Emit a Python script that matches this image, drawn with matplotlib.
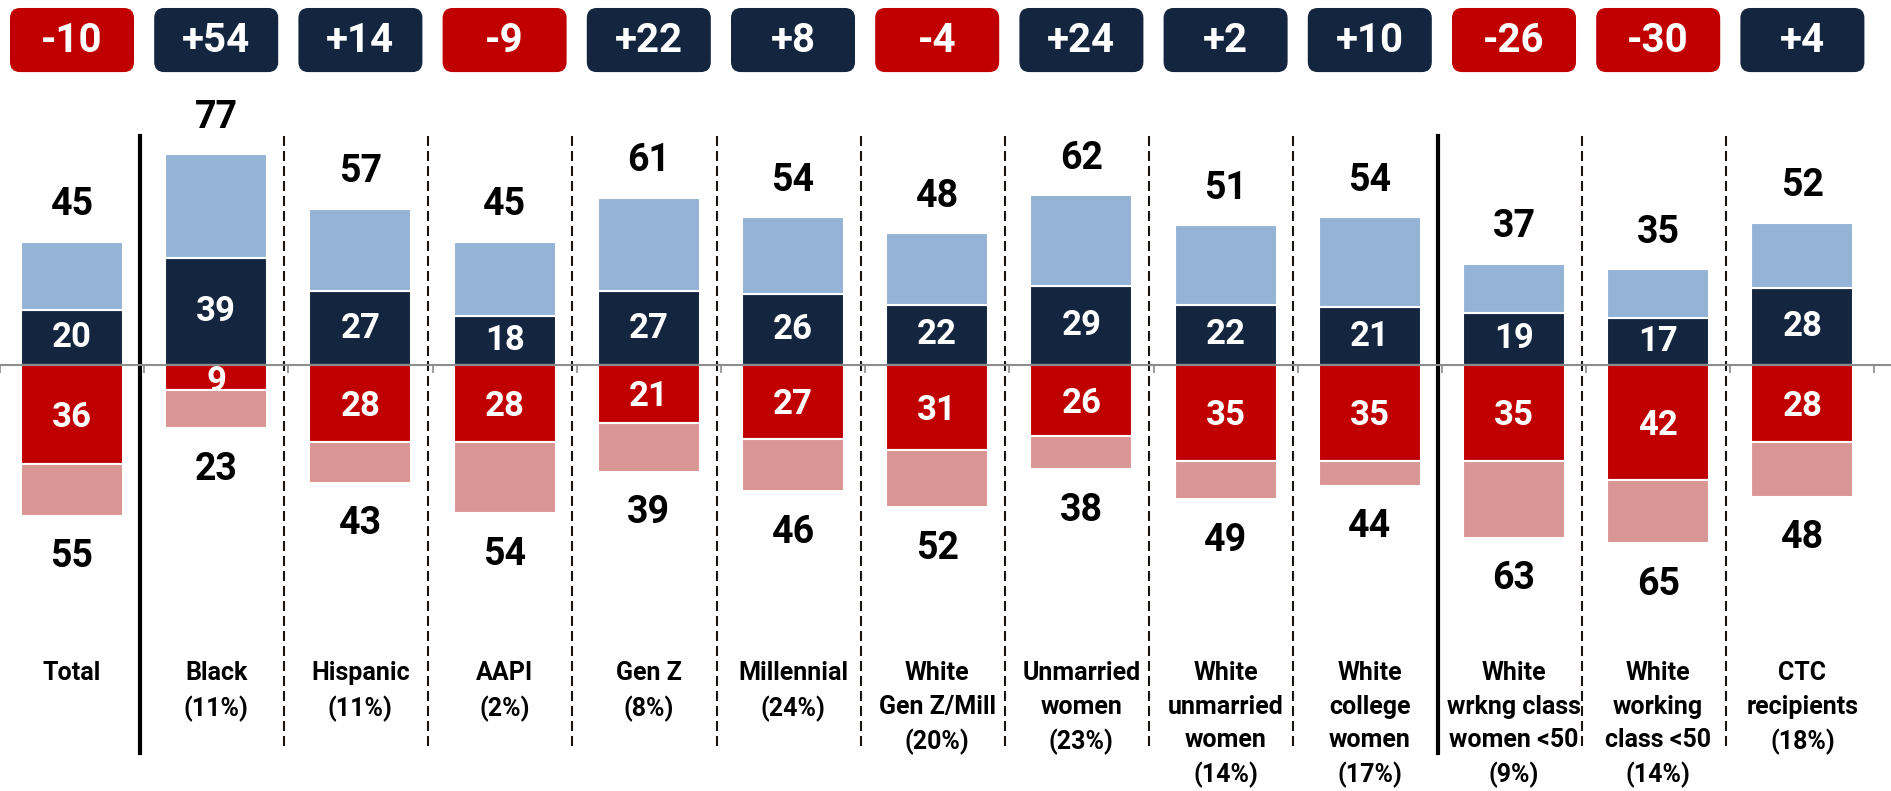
import numpy as np
import matplotlib.pyplot as plt
from matplotlib.patches import FancyBboxPatch

categories = ["Total", "Black\n(11%)", "Hispanic\n(11%)", "AAPI\n(2%)", "Gen Z\n(8%)",
              "Millennial\n(24%)", "White\nGen Z/Mill\n(20%)", "Unmarried\nwomen\n(23%)",
              "White\nunmarried\nwomen\n(14%)", "White\ncollege\nwomen\n(17%)",
              "White\nwrkng class\nwomen <50\n(9%)", "White\nworking\nclass <50\n(14%)",
              "CTC\nrecipients\n(18%)"]
pos_total = [45, 77, 57, 45, 61, 54, 48, 62, 51, 54, 37, 35, 52]
pos_strong = [20, 39, 27, 18, 27, 26, 22, 29, 22, 21, 19, 17, 28]
neg_total = [55, 23, 43, 54, 39, 46, 52, 38, 49, 44, 63, 65, 48]
neg_strong = [36, 9, 28, 28, 21, 27, 31, 26, 35, 35, 35, 42, 28]
solid_after = [0, 9]  # group breaks

navy = "#13253F"
light_blue = "#95B3D7"
red = "#C00000"
pink = "#DA9694"

plt.rcParams['font.family'] = ['Roboto', 'DejaVu Sans']

pos_total = np.array(pos_total)
pos_strong = np.array(pos_strong)
neg_total = np.array(neg_total)
neg_strong = np.array(neg_strong)
net = pos_total - neg_total
x = np.arange(len(categories))

# pixel scale of the reference
px_x = 144.2
px_y = 2.74
x0, y0 = 72, 365

fig = plt.figure(figsize=(18.91, 7.91), dpi=100)
ax = fig.add_axes([0, 0, 1, 1])
ax.axis('off')
ax.set_xlim(-x0 / px_x, (1891 - x0) / px_x)
ax.set_ylim(-(791 - y0) / px_y, y0 / px_y)

w = 0.707
ax.bar(x, pos_strong, width=w, color=navy, edgecolor='white', linewidth=1.5, zorder=2)
ax.bar(x, pos_total - pos_strong, bottom=pos_strong, width=w, color=light_blue,
       edgecolor='white', linewidth=1.5, zorder=2)
ax.bar(x, -neg_strong, width=w, color=red, edgecolor='white', linewidth=1.5, zorder=2)
ax.bar(x, -(neg_total - neg_strong), bottom=-neg_strong, width=w, color=pink,
       edgecolor='white', linewidth=1.5, zorder=2)

# zero line and small ticks
ax.axhline(0, color="#8C8C8C", linewidth=1.5, zorder=3)
ax.vlines(np.arange(len(categories) + 1) - 0.5, -3, 0, color="#8C8C8C", linewidth=1.2, zorder=3)

# separators
for k in range(len(categories) - 1):
    if k in solid_after:
        ax.plot([k + 0.47, k + 0.47], [-141.5, 83.6], color='black', linewidth=3, zorder=1)
    else:
        ax.plot([k + 0.47, k + 0.47], [-139, 83.6], color='#1a1410', linewidth=1.5,
                linestyle=(0, (4.8, 2.4)), zorder=1)

for i in x:
    ax.text(i, pos_total[i] + 13.5, str(pos_total[i]), ha='center', va='center',
            fontsize=27, fontweight='bold', color='black')
    ax.text(i, -neg_total[i] - 15, str(neg_total[i]), ha='center', va='center',
            fontsize=27, fontweight='bold', color='black')
    ax.text(i, pos_strong[i] / 2, str(pos_strong[i]), ha='center', va='center',
            fontsize=25, fontweight='bold', color='white', zorder=4)
    ax.text(i, -max(neg_strong[i], 10) / 2 - 1, str(neg_strong[i]), ha='center', va='center',
            fontsize=25, fontweight='bold', color='white', zorder=4)
    ax.text(i, -108.2, categories[i], ha='center', va='top', fontsize=18,
            fontweight='bold', color='black', linespacing=1.48)

    # net boxes
    bw, bh, by = 0.86, 23.4, 118.6
    col = red if net[i] < 0 else navy
    box = FancyBboxPatch((i - bw / 2, by - bh / 2), bw, bh,
                         boxstyle="round,pad=0,rounding_size=0.07",
                         mutation_aspect=px_x / px_y, facecolor=col, edgecolor='none')
    ax.add_patch(box)
    ax.text(i, by - 0.5, f"{net[i]:+d}", ha='center', va='center', fontsize=29,
            fontweight='bold', color='white')

fig.savefig("out.png", dpi=100)
